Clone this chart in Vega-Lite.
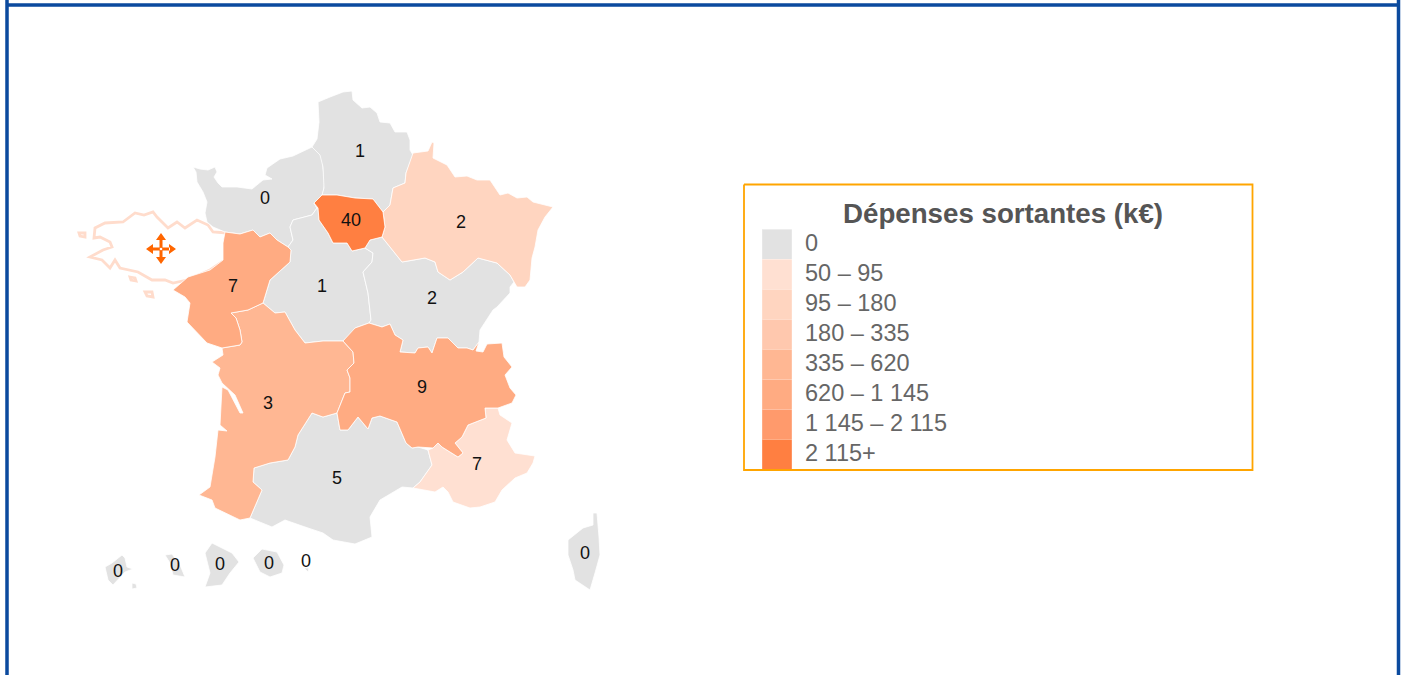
{"$schema":"https://vega.github.io/schema/vega-lite/v6.json","width":1405,"height":675,"padding":0,"autosize":{"type":"none"},"background":"white","config":{"view":{"stroke":null},"font":"Liberation Sans"},"projection":{"type":"identity","scale":1,"translate":[0,0]},"layer":[
{"data":{"values":[{"type":"Feature","properties":{"nom":"cadre"},"geometry":{"type":"MultiLineString","coordinates":[[[7,0],[7,675]],[[7,5],[1397,5]],[[1398.5,0],[1398.5,675]]]}}]},"mark":{"type":"geoshape","filled":false,"stroke":"#0B4A9E","strokeWidth":3.5},"encoding":{}},
{"data":{"values":[{"type":"Feature","properties":{"nom":"cadre légende"},"geometry":{"type":"LineString","coordinates":[[744,184.5],[1252.5,184.5],[1252.5,470],[744,470],[744,184.5]]}}]},"mark":{"type":"geoshape","filled":false,"stroke":"#FFA500","strokeWidth":1.8},"encoding":{}},
{"data":{"values":[{"type":"Feature","properties":{"nom":"Bretagne"},"geometry":{"type":"MultiPolygon","coordinates":[[[[227,233],[213,232],[208,225],[197,220],[185,228],[177,222],[168,228],[157,217],[153,212],[144,215],[135,213],[123,222],[105,223],[95,228],[94,238],[100,237],[110,242],[112,247],[103,250],[90,257],[102,260],[110,268],[115,260],[120,268],[138,272],[152,280],[165,280],[173,283],[187,280],[210,270],[225,260],[225,233]]],[[[79,233],[85,233],[85,237],[80,236],[79,233]]],[[[145,292],[152,292],[153,297],[147,296],[145,292]]],[[[130,277],[135,278],[136,281],[131,280],[130,277]]]]}}]},"mark":{"type":"geoshape","fill":"white","stroke":"#FFDCCC","strokeWidth":2.8},"encoding":{}},
{"data":{"values":[
{"type":"Feature","properties":{"nom":"Normandie","classe":"0"},"geometry":{"type":"Polygon","coordinates":[[[193,167],[200,169],[208,170],[215,167],[217,172],[214,177],[218,183],[222,187],[237,187],[252,189],[263,180],[272,179],[265,175],[267,168],[280,159],[293,156],[312,147],[322,153],[323,168],[325,182],[323,193],[322,195],[314,203],[317,208],[312,215],[293,220],[290,227],[293,240],[288,247],[277,240],[270,233],[260,237],[253,230],[240,234],[225,232],[213,227],[207,222],[205,213],[207,202],[203,192],[197,182],[196,172],[193,167]]]}},
{"type":"Feature","properties":{"nom":"Hauts-de-France","classe":"0"},"geometry":{"type":"Polygon","coordinates":[[[318,102],[330,97],[343,92],[352,91],[353,100],[362,108],[370,107],[377,113],[380,122],[390,123],[395,132],[407,132],[410,140],[410,150],[413,155],[406,173],[405,183],[393,188],[390,205],[383,212],[373,199],[355,198],[337,195],[322,195],[324,188],[323,167],[320,155],[312,147],[317,139],[319,122],[318,102]]]}},
{"type":"Feature","properties":{"nom":"Centre-Val de Loire","classe":"0"},"geometry":{"type":"Polygon","coordinates":[[[293,220],[312,215],[317,208],[314,203],[318,208],[319,220],[328,233],[333,243],[347,243],[352,251],[365,248],[373,253],[372,262],[363,272],[368,293],[371,320],[369,323],[355,328],[353,335],[343,341],[323,341],[305,343],[295,330],[285,312],[275,313],[263,303],[270,280],[290,262],[291,250],[288,247],[293,240],[290,227],[293,220]]]}},
{"type":"Feature","properties":{"nom":"Bourgogne-Franche-Comté","classe":"0"},"geometry":{"type":"Polygon","coordinates":[[[365,248],[370,240],[382,237],[390,247],[402,262],[425,258],[435,262],[438,272],[450,280],[463,272],[478,258],[497,263],[510,275],[514,282],[510,287],[510,293],[497,307],[493,310],[480,330],[479,342],[473,350],[467,348],[458,348],[448,338],[437,338],[432,353],[428,347],[418,348],[415,353],[400,352],[403,340],[395,335],[390,324],[382,327],[369,323],[371,320],[368,293],[363,272],[372,262],[373,253],[365,248]]]}},
{"type":"Feature","properties":{"nom":"Occitanie","classe":"0"},"geometry":{"type":"Polygon","coordinates":[[[337,413],[340,430],[348,430],[358,417],[368,429],[372,418],[380,416],[397,422],[406,443],[412,448],[418,447],[428,450],[432,465],[420,482],[413,488],[402,487],[380,500],[370,517],[372,537],[355,544],[333,540],[323,533],[308,528],[285,520],[272,527],[250,518],[262,490],[253,482],[254,468],[270,463],[288,460],[295,447],[298,435],[312,413],[323,417],[337,413]]]}},
{"type":"Feature","properties":{"nom":"Grand Est","classe":"95 – 180"},"geometry":{"type":"Polygon","coordinates":[[[413,153],[428,151],[432,142],[434,143],[433,158],[447,165],[455,177],[467,176],[477,180],[490,180],[500,195],[508,193],[517,198],[527,197],[533,202],[553,207],[545,217],[538,230],[535,247],[532,258],[530,280],[525,287],[517,287],[510,275],[497,263],[478,258],[463,272],[450,280],[438,272],[435,262],[425,258],[402,262],[390,247],[382,237],[385,227],[383,212],[390,205],[393,188],[405,183],[406,173],[413,153]]]}},
{"type":"Feature","properties":{"nom":"Provence-Alpes-Côte d'Azur","classe":"50 – 95"},"geometry":{"type":"Polygon","coordinates":[[[485,408],[498,408],[500,415],[512,423],[507,440],[515,453],[535,456],[533,463],[527,473],[515,478],[502,490],[495,502],[480,507],[470,508],[453,502],[448,492],[443,487],[435,492],[413,488],[420,482],[432,465],[428,450],[433,448],[438,443],[442,447],[458,457],[463,453],[455,443],[462,437],[468,425],[486,418],[485,408]]]}},
{"type":"Feature","properties":{"nom":"Nouvelle-Aquitaine","classe":"335 – 620"},"geometry":{"type":"Polygon","coordinates":[[[231,313],[248,310],[263,303],[275,313],[285,312],[295,330],[305,343],[323,341],[343,341],[353,352],[354,363],[347,370],[350,378],[350,392],[345,393],[337,413],[323,417],[312,413],[298,435],[295,447],[288,460],[270,463],[254,468],[253,482],[262,490],[250,518],[240,520],[215,508],[212,500],[199,495],[210,487],[215,457],[218,430],[227,431],[220,425],[222,387],[228,390],[240,413],[243,413],[235,395],[222,383],[218,375],[220,368],[212,362],[223,355],[222,348],[240,345],[242,342],[240,330],[236,318],[231,313]]]}},
{"type":"Feature","properties":{"nom":"Pays de la Loire","classe":"620 – 1 145"},"geometry":{"type":"Polygon","coordinates":[[[225,232],[240,234],[253,230],[260,237],[270,233],[277,240],[288,247],[291,250],[290,262],[270,280],[263,303],[248,310],[231,313],[236,318],[240,330],[242,342],[240,345],[222,348],[207,343],[187,322],[190,303],[185,297],[173,290],[188,277],[210,270],[223,260],[223,243],[225,232]]]}},
{"type":"Feature","properties":{"nom":"Auvergne-Rhône-Alpes","classe":"620 – 1 145"},"geometry":{"type":"Polygon","coordinates":[[[343,341],[355,328],[369,323],[382,327],[390,324],[395,335],[403,340],[400,352],[415,353],[418,348],[428,347],[432,353],[437,338],[448,338],[458,348],[467,348],[473,350],[479,342],[476,351],[483,352],[487,344],[502,343],[504,357],[512,367],[505,375],[510,388],[516,395],[512,403],[498,408],[485,408],[486,418],[468,425],[462,437],[455,443],[463,453],[458,457],[442,447],[438,443],[433,448],[418,447],[412,448],[406,443],[397,422],[380,416],[372,418],[368,429],[358,417],[348,430],[340,430],[337,413],[345,393],[350,392],[350,378],[347,370],[354,363],[353,352],[343,341]]]}},
{"type":"Feature","properties":{"nom":"Île-de-France","classe":"2 115+"},"geometry":{"type":"Polygon","coordinates":[[[322,195],[337,195],[355,198],[373,199],[383,212],[385,227],[382,237],[370,240],[365,248],[352,251],[347,243],[333,243],[328,233],[319,220],[318,208],[314,203],[322,195]]]}},
{"type":"Feature","properties":{"nom":"Guadeloupe","classe":"0"},"geometry":{"type":"MultiPolygon","coordinates":[[[[105,567],[112,563],[122,555],[125,558],[127,567],[133,569],[125,572],[113,585],[108,580],[105,567]]],[[[132,583],[136,584],[137,588],[132,589],[132,583]]]]}},
{"type":"Feature","properties":{"nom":"Martinique","classe":"0"},"geometry":{"type":"Polygon","coordinates":[[[165,555],[172,554],[180,565],[185,577],[173,575],[170,563],[165,555]]]}},
{"type":"Feature","properties":{"nom":"Guyane","classe":"0"},"geometry":{"type":"Polygon","coordinates":[[[212,543],[222,548],[232,553],[239,562],[230,573],[222,585],[205,587],[210,573],[205,553],[212,543]]]}},
{"type":"Feature","properties":{"nom":"La Réunion","classe":"0"},"geometry":{"type":"Polygon","coordinates":[[[253,558],[262,549],[277,552],[284,565],[282,573],[270,577],[260,572],[253,558]]]}},
{"type":"Feature","properties":{"nom":"Mayotte","classe":"0"},"geometry":{"type":"Polygon","coordinates":[[[304,568],[309,568],[308,572],[304,568]]]}},
{"type":"Feature","properties":{"nom":"Corse","classe":"0"},"geometry":{"type":"Polygon","coordinates":[[[593,513],[597,513],[598,525],[599,537],[600,555],[595,573],[590,590],[575,580],[573,570],[568,555],[568,540],[583,528],[593,525],[593,513]]]}}
]},"mark":{"type":"geoshape","stroke":"white","strokeWidth":0.8},"encoding":{"color":{"field":"properties.classe","type":"nominal","scale":{"domain":["0","50 – 95","95 – 180","180 – 335","335 – 620","620 – 1 145","1 145 – 2 115","2 115+"],"range":["#E2E2E2","#FFE0D2","#FFD5C0","#FFC8AE","#FFB793","#FFAB82","#FF9A6C","#FF7F41"]},"legend":{"title":"Dépenses sortantes (k€)","orient":"none","legendX":843,"legendY":201,"padding":0,"titleFont":"Liberation Sans","titleFontSize":27.7,"titleFontWeight":"bold","titleColor":"#555555","titleLimit":500,"titlePadding":0.5,"labelFont":"Liberation Sans","labelFontSize":23.5,"labelColor":"#666666","labelOffset":13,"labelLimit":300,"symbolType":"square","symbolSize":880,"symbolStrokeWidth":0,"symbolOpacity":1,"symbolOffset":-81,"rowPadding":-0.6}}}},
{"data":{"values":[{"type":"Feature","properties":{"nom":"icône de déplacement"},"geometry":{"type":"MultiPolygon","coordinates":[[[[159.5,240],[162.5,240],[162.5,258],[159.5,258],[159.5,240]]],[[[152,247.5],[170,247.5],[170,250.5],[152,250.5],[152,247.5]]],[[[161,233],[166,240],[156,240],[161,233]]],[[[161,264],[156,257],[166,257],[161,264]]],[[[146,249],[153,244],[153,254],[146,249]]],[[[176,249],[169,244],[169,254],[176,249]]]]}}]},"mark":{"type":"geoshape","fill":"#FF6600","stroke":null},"encoding":{}},
{"data":{"values":[{"lon":161,"lat":249}]},"mark":{"type":"circle","fill":"white","size":7,"opacity":1},"encoding":{"longitude":{"field":"lon","type":"quantitative"},"latitude":{"field":"lat","type":"quantitative"}}},
{"data":{"values":[
{"nom":"Hauts-de-France","valeur":"1","lon":360,"lat":152},
{"nom":"Normandie","valeur":"0","lon":265,"lat":199},
{"nom":"Île-de-France","valeur":"40","lon":351,"lat":221},
{"nom":"Grand Est","valeur":"2","lon":461,"lat":223},
{"nom":"Pays de la Loire","valeur":"7","lon":233,"lat":287},
{"nom":"Centre-Val de Loire","valeur":"1","lon":322,"lat":287},
{"nom":"Bourgogne-Franche-Comté","valeur":"2","lon":432,"lat":299},
{"nom":"Nouvelle-Aquitaine","valeur":"3","lon":268,"lat":404},
{"nom":"Auvergne-Rhône-Alpes","valeur":"9","lon":422,"lat":388},
{"nom":"Provence-Alpes-Côte d'Azur","valeur":"7","lon":477,"lat":465},
{"nom":"Occitanie","valeur":"5","lon":337,"lat":479},
{"nom":"Guadeloupe","valeur":"0","lon":118,"lat":572},
{"nom":"Martinique","valeur":"0","lon":175,"lat":566},
{"nom":"Guyane","valeur":"0","lon":220,"lat":565},
{"nom":"La Réunion","valeur":"0","lon":269,"lat":564},
{"nom":"Mayotte","valeur":"0","lon":306,"lat":562},
{"nom":"Corse","valeur":"0","lon":585,"lat":554}
]},"mark":{"type":"text","font":"Liberation Sans","fontSize":18,"color":"#111111","align":"center","baseline":"middle"},"encoding":{"longitude":{"field":"lon","type":"quantitative"},"latitude":{"field":"lat","type":"quantitative"},"text":{"field":"valeur","type":"nominal"}}}
]}
